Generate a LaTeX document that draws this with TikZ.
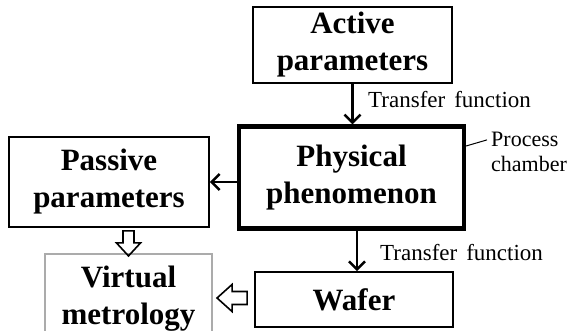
\documentclass[tikz,border=0pt]{standalone}
\usepackage{fontspec}
\setmainfont{Liberation Serif}
\usetikzlibrary{arrows.meta,calc}
\begin{document}
\begin{tikzpicture}[x=1pt,y=-1pt,
  box/.style={draw, line width=1.9pt, inner sep=0pt, align=center, text=black,
    font=\bfseries\fontsize{31}{37}\selectfont},
  lbl/.style={inner sep=0pt, font=\fontsize{22}{26}\selectfont},
  tfl/.style={inner sep=0pt, font=\fontsize{23}{26}\selectfont},
  arr/.style={line width=2.5pt, -{Straight Barb[length=8pt,width=16pt,line width=2.5pt]}},
  pics/hdown/.style={code={\draw[line width=1.6pt, line join=miter]
     (-5.5,0) -- (5.5,0) -- (5.5,12) -- (12,12) -- (0,25) -- (-12,12) -- (-5.5,12) -- cycle;}},
  pics/hleft/.style={code={\draw[line width=1.6pt, line join=miter]
     (0,-6.5) -- (-15,-6.5) -- (-15,-13.5) -- (-30,0) -- (-15,13.5) -- (-15,6.5) -- (0,6.5) -- cycle;}}
]
\useasboundingbox (0,0) rectangle (571,331);
\node[box, minimum width=199pt, minimum height=76pt] (act) at (352.5,45) {Active\\parameters};
\node[box, line width=4.2pt, minimum width=225pt, minimum height=102pt] (phys) at (351.5,177.5) {Physical\\phenomenon};
\node[box, minimum width=200pt, minimum height=90pt] (pas) at (109,182) {Passive\\parameters};
\node[box, minimum width=198pt, minimum height=55pt] (wafer) at (354,299.5) {Wafer};
\node[box, draw=black!33, minimum width=167pt, minimum height=90pt] (virt) at (128.5,299) {Virtual\\metrology};

\node[tfl, anchor=base west] (tf1) at (368,108) {Transfer\hspace{9pt}function};
\node[tfl, anchor=base west] (tf2) at (380,261) {Transfer\hspace{9pt}function};
\node[lbl, anchor=base west] (proc) at (491,147) {Process};
\node[lbl, anchor=base west] (chamb) at (491,172) {chamber};

\draw[arr] (act.south) -- (act.south |- phys.north);
\draw[arr] (phys.west |- pas.east) -- (pas.east);
\draw[arr] ([xshift=3pt]wafer.north |- phys.south) -- ([xshift=3pt]wafer.north);
\draw[line width=1pt] (phys.east |- 0,146) -- ([xshift=-4pt]proc.west);

\pic at ($(pas.south -| virt.north)+(0,3)$) {hdown};
\pic at ($(wafer.west)+(-7,-1.5)$) {hleft};
\end{tikzpicture}
\end{document}
